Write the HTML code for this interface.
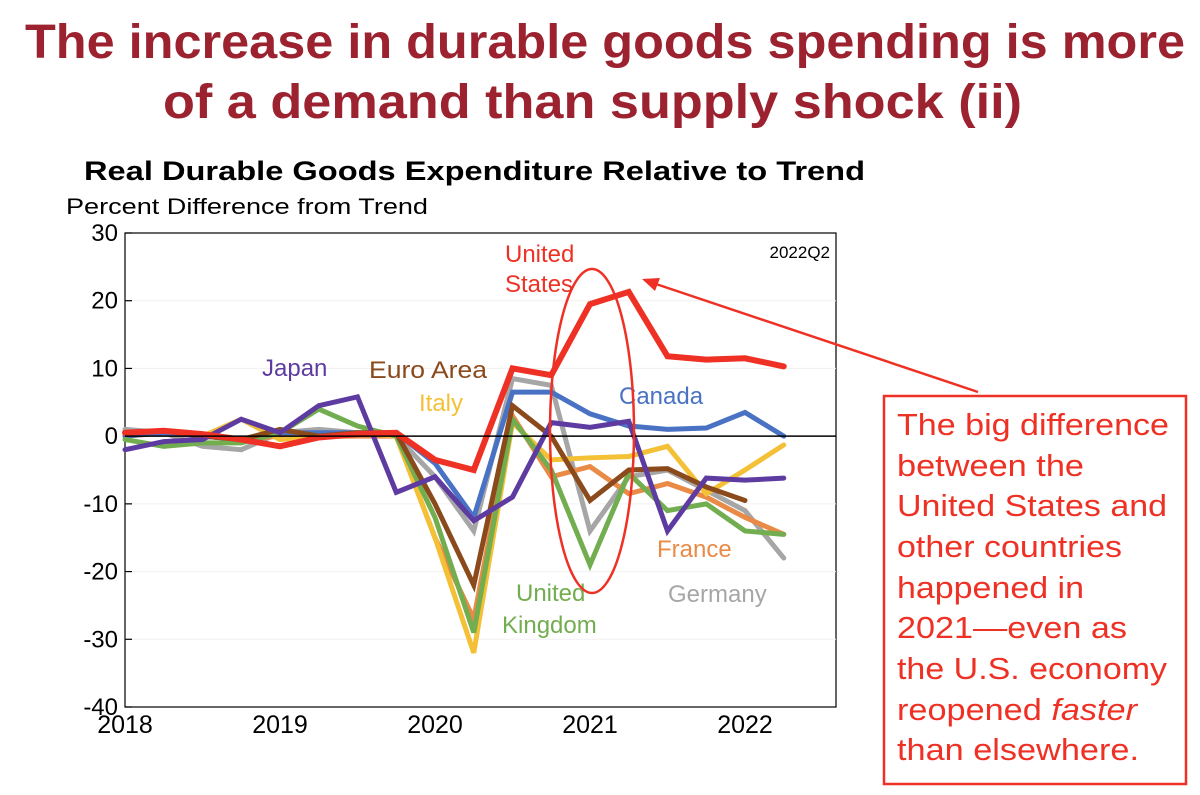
<!DOCTYPE html>
<html><head><meta charset="utf-8">
<style>
html,body{margin:0;padding:0;background:#fff;width:1200px;height:795px;overflow:hidden;font-family:"Liberation Sans",Arial,sans-serif}
</style></head>
<body>
<svg id="chart" width="1200" height="795" viewBox="0 0 1200 795" xmlns="http://www.w3.org/2000/svg" font-family="Liberation Sans, Arial, sans-serif">
<text x="25" y="58" font-size="48" font-weight="bold" fill="#9c2230" textLength="1160" lengthAdjust="spacingAndGlyphs">The increase in durable goods spending is more</text>
<text x="163" y="118" font-size="48" font-weight="bold" fill="#9c2230" textLength="859" lengthAdjust="spacingAndGlyphs">of a demand than supply shock (ii)</text>
<text x="84" y="180" font-size="27" font-weight="bold" fill="#000" textLength="781" lengthAdjust="spacingAndGlyphs">Real Durable Goods Expenditure Relative to Trend</text>
<text x="66" y="214" font-size="22" fill="#000" textLength="362" lengthAdjust="spacingAndGlyphs">Percent Difference from Trend</text>
<rect x="125" y="233" width="711" height="474" fill="none" stroke="#000" stroke-width="1.2"/>
<g id="grid"></g>
<g id="axes"></g>
<g id="lines"></g>
<text x="830" y="258" text-anchor="end" font-size="17" fill="#000">2022Q2</text>
<text x="505" y="262" font-size="24" fill="#ee3124">United</text>
<text x="505" y="292" font-size="24" fill="#ee3124">States</text>
<text x="262" y="376" font-size="24" fill="#5e3ba0">Japan</text>
<text x="369" y="378" font-size="24" fill="#8b4a1c" textLength="118" lengthAdjust="spacingAndGlyphs">Euro Area</text>
<text x="419" y="411" font-size="24" fill="#f4c036">Italy</text>
<text x="619" y="404" font-size="24" fill="#4a72c4">Canada</text>
<text x="657" y="557" font-size="24" fill="#e98a47">France</text>
<text x="668" y="602" font-size="24" fill="#a6a6a6">Germany</text>
<text x="516" y="601" font-size="24" fill="#72ad4f">United</text>
<text x="502" y="633" font-size="24" fill="#72ad4f">Kingdom</text>
<ellipse cx="592" cy="431" rx="42" ry="162" fill="none" stroke="#ee3124" stroke-width="2.5"/>
<line x1="978" y1="392" x2="650" y2="282" stroke="#ee3124" stroke-width="2.5"/>
<polygon points="642,279 660,278 655,291" fill="#ee3124"/>
<rect x="884" y="396" width="302" height="388" fill="#fff" stroke="#ee3124" stroke-width="2.5"/>
<g font-size="31" fill="#ee3124">
<text x="897" y="435" textLength="272" lengthAdjust="spacingAndGlyphs">The big difference</text>
<text x="897" y="476" textLength="187" lengthAdjust="spacingAndGlyphs">between the</text>
<text x="897" y="516" textLength="270" lengthAdjust="spacingAndGlyphs">United States and</text>
<text x="897" y="557" textLength="225" lengthAdjust="spacingAndGlyphs">other countries</text>
<text x="897" y="598" textLength="187" lengthAdjust="spacingAndGlyphs">happened in</text>
<text x="897" y="638" textLength="230" lengthAdjust="spacingAndGlyphs">2021—even as</text>
<text x="897" y="679" textLength="270" lengthAdjust="spacingAndGlyphs">the U.S. economy</text>
<text x="897" y="720" textLength="240" lengthAdjust="spacingAndGlyphs">reopened <tspan font-style="italic">faster</tspan></text>
<text x="897" y="760" textLength="242" lengthAdjust="spacingAndGlyphs">than elsewhere.</text>
</g>
</svg>
<script>
const yTicks=[30,20,10,0,-10,-20,-30,-40];
const xYears=["2018","2019","2020","2021","2022"];
const unitedStates=[0.5,0.8,0.3,-0.5,-1.5,-0.2,0.3,0.5,-3.5,-5,10,9,19.5,21.3,11.8,11.3,11.5,10.3];
const canada=[0,0.5,0,-0.5,0.5,0.5,0.5,0.5,-4,-12,6.5,6.5,3.3,1.5,1,1.2,3.5,0];
const japan=[-2,-0.8,-0.5,2.5,0.5,4.5,5.8,-8.3,-6,-12.5,-9,2,1.3,2.2,-14,-6.2,-6.5,-6.2];
const italy=[0,0.5,0,2.5,-0.5,0,0.5,0,-15,-32,2,-3.5,-3.2,-3,-1.5,-8.5,-5,-1.3];
const france=[0,0.5,0,-0.5,0,0,0,0,-15,-27,3,-6,-4.5,-8.5,-7,-9,-12,-14.5];
const germany=[1,0.5,-1.5,-2,0.5,1,0.5,0,-6,-14,8.5,7.5,-14,-6,-5,-8,-11,-18];
const unitedKingdom=[-0.5,-1.5,-1,-1,0.5,4,1.5,0,-12,-29,2.5,-5,-19,-5.5,-11,-10,-14,-14.5];
const euroArea=[0.5,0.8,0,-0.5,1,0,0.5,0.5,-10,-22,4.5,0,-9.5,-5,-4.8,-7.5,-9.5];
const NS="http://www.w3.org/2000/svg";
const X0=125,QW=38.75,Y0=233,YH=474,YMAX=30,YMIN=-40;
function xs(i){return X0+i*QW;}
function ys(v){return Y0+(YMAX-v)/(YMAX-YMIN)*YH;}
function mk(tag,attrs,parent){const e=document.createElementNS(NS,tag);for(const k in attrs)e.setAttribute(k,attrs[k]);parent.appendChild(e);return e;}
const grid=document.getElementById('grid'),axes=document.getElementById('axes'),lines=document.getElementById('lines');
yTicks.forEach(v=>{
  const y=ys(v);
  if(v!==30&&v!==-40&&v!==0){const g=mk('line',{x1:X0,x2:836,y1:y,y2:y,stroke:'#f0f0f0','stroke-width':1},grid);
  
  }
  const t=mk('line',{x1:X0,x2:X0+7,y1:y,y2:y,stroke:'#000','stroke-width':1.2},axes);
  
  
  const l=mk('text',{x:X0-7,y:y+8,'text-anchor':'end','font-size':24,fill:'#000'},axes);
  l.textContent=v;
  
  
});
xYears.forEach((yr,k)=>{
  const x=xs(k*4);
  const l=mk('text',{x:x,y:733,'text-anchor':'middle','font-size':25,fill:'#000'},axes);
  l.textContent=yr;
  
  
});
const series=[["germany",germany,"#a6a6a6"],["france",france,"#e98a47"],["italy",italy,"#f4c036"],["canada",canada,"#4a72c4"],["united-kingdom",unitedKingdom,"#72ad4f"],["euro-area",euroArea,"#8b4a1c"],["japan",japan,"#5e3ba0"],["united-states",unitedStates,"#ee3124"]];
series.forEach(([n,d,c])=>{
  const p=mk('polyline',{points:d.map((v,i)=>xs(i)+','+ys(v)).join(' '),fill:'none',stroke:c,'stroke-width':n==='united-states'?6:5,'stroke-linejoin':'miter','stroke-linecap':'round'},lines);
  
  
});
const z=mk('line',{x1:X0,x2:836,y1:ys(0),y2:ys(0),stroke:'#000','stroke-width':1.5},lines);


</script>
</body></html>
